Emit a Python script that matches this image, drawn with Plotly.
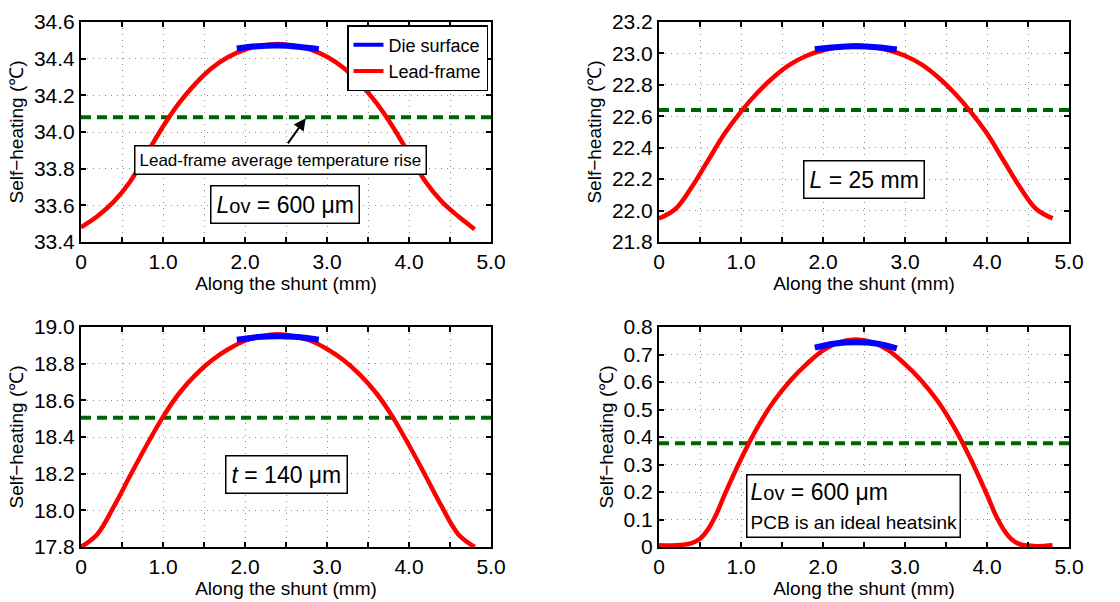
import plotly.graph_objects as go

# ---------------- data ----------------
x_lf = [0.0, 0.2, 0.4, 0.6, 0.8, 1.0, 1.2, 1.4, 1.6, 1.8, 2.0, 2.2, 2.4,
        2.6, 2.8, 3.0, 3.2, 3.4, 3.6, 3.8, 4.0, 4.2, 4.4, 4.6, 4.8]
x_lf_br = [0.0, 0.2, 0.4, 0.5, 0.6, 0.7, 0.8, 1.0, 1.2, 1.4, 1.6, 1.8, 2.0, 2.2, 2.4,
           2.6, 2.8, 3.0, 3.2, 3.4, 3.6, 3.8, 4.0, 4.1, 4.2, 4.3, 4.4, 4.6, 4.8]
x_die = [1.9, 2.15, 2.4, 2.65, 2.9]

tl_lf = [33.48, 33.54, 33.62, 33.73, 33.88, 34.03, 34.16, 34.265, 34.35, 34.41, 34.45, 34.47, 34.48,
         34.47, 34.45, 34.41, 34.35, 34.265, 34.16, 34.03, 33.88, 33.73, 33.62, 33.54, 33.47]
tl_die = [34.455, 34.468, 34.472, 34.465, 34.452]
tl_avg = 34.08

tr_lf = [21.95, 22.01, 22.15, 22.32, 22.49, 22.63, 22.75, 22.85, 22.93, 22.985, 23.02, 23.04, 23.05,
         23.04, 23.02, 22.985, 22.93, 22.85, 22.75, 22.63, 22.49, 22.32, 22.15, 22.01, 21.95]
tr_die = [23.027, 23.04, 23.045, 23.04, 23.025]
tr_avg = 22.64

bl_lf = [17.80, 17.87, 18.02, 18.19, 18.355, 18.51, 18.64, 18.74, 18.82, 18.88, 18.925, 18.95, 18.96,
         18.95, 18.925, 18.88, 18.82, 18.74, 18.64, 18.51, 18.355, 18.19, 18.02, 17.87, 17.80]
bl_die = [18.93, 18.945, 18.95, 18.945, 18.93]
bl_avg = 18.505

br_lf = [0.006, 0.006, 0.014, 0.03, 0.065, 0.12, 0.19, 0.32, 0.435, 0.53, 0.605, 0.665, 0.715, 0.745, 0.755,
         0.745, 0.715, 0.665, 0.605, 0.53, 0.435, 0.32, 0.19, 0.12, 0.065, 0.028, 0.01, 0.003, 0.006]
br_die = [0.725, 0.74, 0.745, 0.74, 0.722]
br_avg = 0.377

x_tickvals = [0, 0.5, 1.0, 1.5, 2.0, 2.5, 3.0, 3.5, 4.0, 4.5, 5.0]
x_ticktext = ["0", "", "1.0", "", "2.0", "", "3.0", "", "4.0", "", "5.0"]

tl_yticks = [33.4, 33.6, 33.8, 34.0, 34.2, 34.4, 34.6]
tr_yticks = [21.8, 22.0, 22.2, 22.4, 22.6, 22.8, 23.0, 23.2]
bl_yticks = [17.8, 18.0, 18.2, 18.4, 18.6, 18.8, 19.0]
br_yticks = [0, 0.1, 0.2, 0.3, 0.4, 0.5, 0.6, 0.7, 0.8]
br_yticktext = ["0", "0.1", "0.2", "0.3", "0.4", "0.5", "0.6", "0.7", "0.8"]

x_title = "Along the shunt (mm)"
y_title = "Self\u2212heating (\u2103)"

# ---------------- layout helpers ----------------
FONT = "Liberation Sans Narrow, Arial Narrow, Liberation Sans, Arial, sans-serif"
W, H = 1120, 602
xdom = [[81 / W, 491 / W], [659 / W, 1069 / W]]
ydom = [[1 - 242 / H, 1 - 22 / H], [1 - 547 / H, 1 - 327 / H]]

panels = [
    dict(x=x_lf, lf=tl_lf, die=tl_die, avg=tl_avg, yt=tl_yticks, ytt=None, xd=xdom[0], yd=ydom[0]),
    dict(x=x_lf, lf=tr_lf, die=tr_die, avg=tr_avg, yt=tr_yticks, ytt=None, xd=xdom[1], yd=ydom[0]),
    dict(x=x_lf, lf=bl_lf, die=bl_die, avg=bl_avg, yt=bl_yticks, ytt=None, xd=xdom[0], yd=ydom[1]),
    dict(x=x_lf_br, lf=br_lf, die=br_die, avg=br_avg, yt=br_yticks, ytt=br_yticktext, xd=xdom[1], yd=ydom[1]),
]

fig = go.Figure()
layout = dict(
    width=W, height=H, margin=dict(l=0, r=0, t=0, b=0, autoexpand=False),
    paper_bgcolor="white", plot_bgcolor="white",
    font=dict(family=FONT, size=20, color="black"),
    showlegend=True,
)

for i, p in enumerate(panels):
    n = i + 1
    xa = "x" if n == 1 else f"x{n}"
    ya = "y" if n == 1 else f"y{n}"
    fig.add_trace(go.Scatter(x=[0, 5], y=[p["avg"], p["avg"]], mode="lines",
                             line=dict(color="#006400", width=4, dash="10px,6px"),
                             xaxis=xa, yaxis=ya, showlegend=False, hoverinfo="skip"))
    fig.add_trace(go.Scatter(x=p["x"], y=p["lf"], mode="lines", name="Lead-frame",
                             line=dict(color="#ff0000", width=4.5, shape="spline", smoothing=1.0),
                             xaxis=xa, yaxis=ya, showlegend=False))
    fig.add_trace(go.Scatter(x=x_die, y=p["die"], mode="lines", name="Die surface",
                             line=dict(color="#0000ff", width=6, shape="spline"),
                             xaxis=xa, yaxis=ya, showlegend=False))
    yt = p["yt"]
    common = dict(showline=True, linecolor="black", linewidth=2, mirror="ticks",
                  ticks="inside", ticklen=5, tickwidth=1.5, tickcolor="black",
                  showgrid=True, gridcolor="#8c8c8c", griddash="1px,5px", gridwidth=1,
                  zeroline=False, tickfont=dict(family=FONT, size=21), automargin=False)
    layout["xaxis" if n == 1 else f"xaxis{n}"] = dict(
        common, domain=p["xd"], anchor=ya, range=[0, 5], tickvals=x_tickvals, ticktext=x_ticktext,
        title=dict(text=x_title, font=dict(family=FONT, size=19), standoff=2))
    layout["yaxis" if n == 1 else f"yaxis{n}"] = dict(
        common, domain=p["yd"], anchor=xa, range=[yt[0], yt[-1]], tickvals=yt,
        ticktext=p["ytt"] if p["ytt"] else [f"{v:.1f}" for v in yt],
        title=dict(text=y_title, font=dict(family=FONT, size=19), standoff=5))

fig.add_trace(go.Scatter(x=[None], y=[None], mode="lines", name="Die surface",
                         line=dict(color="#0000ff", width=4), xaxis="x", yaxis="y"))
fig.add_trace(go.Scatter(x=[None], y=[None], mode="lines", name="Lead-frame",
                         line=dict(color="#ff0000", width=4), xaxis="x", yaxis="y"))

layout["legend"] = dict(x=488 / W, xanchor="right", y=1 - 25 / H, yanchor="top",
                        bgcolor="white", bordercolor="black", borderwidth=1.5,
                        font=dict(family=FONT, size=18), itemwidth=30,
                        tracegroupgap=0)

box = dict(bgcolor="white", bordercolor="black", borderwidth=1.5, showarrow=False)
annotations = [
    dict(box, x=2.43, y=33.848, xref="x", yref="y",
         text="Lead-frame average temperature rise", font=dict(family=FONT, size=17), borderpad=4),
    dict(box, x=2.49, y=33.607, xref="x", yref="y",
         text="<i>L</i><span style='font-size:20px'>ov</span> = 600 \u03bcm",
         font=dict(family=FONT, size=23), borderpad=5),
    dict(box, x=2.5, y=22.2, xref="x2", yref="y2",
         text="<i>L</i> = 25 mm", font=dict(family=FONT, size=23), borderpad=5),
    dict(box, x=2.5, y=18.195, xref="x3", yref="y3",
         text="<i>t</i> = 140 \u03bcm", font=dict(family=FONT, size=23), borderpad=5),
    dict(box, x=2.375, y=0.148, xref="x4", yref="y4", align="left",
         text="<i>L</i><span style='font-size:20px'>ov</span> = 600 \u03bcm<br>"
              "<span style='font-size:19px'>PCB is an ideal heatsink</span>",
         font=dict(family=FONT, size=23), borderpad=3),
    dict(x=2.74, y=34.075, xref="x", yref="y", ax=2.51, ay=33.93, axref="x", ayref="y",
         text="", showarrow=True, arrowhead=2, arrowsize=1.2, arrowwidth=2, arrowcolor="black"),
]
layout["annotations"] = annotations

fig.update_layout(**layout)
fig.write_html("out.html")
